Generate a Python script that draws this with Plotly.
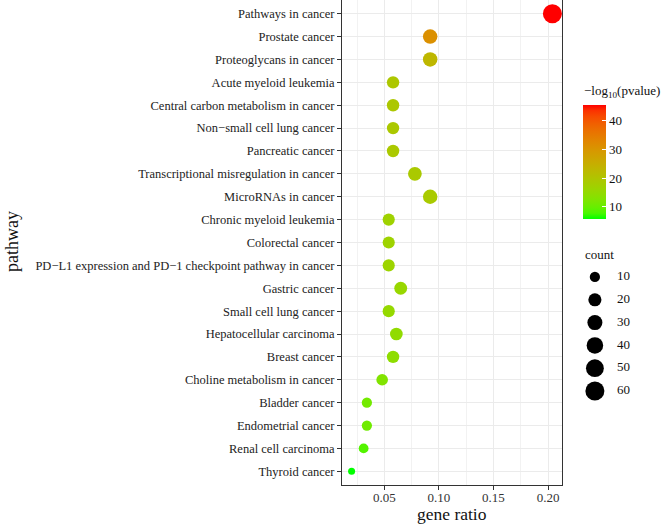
import numpy as np
import plotly.graph_objects as go

pathways = [
    "Pathways in cancer", "Prostate cancer", "Proteoglycans in cancer",
    "Acute myeloid leukemia", "Central carbon metabolism in cancer",
    "Non\u2212small cell lung cancer", "Pancreatic cancer",
    "Transcriptional misregulation in cancer", "MicroRNAs in cancer",
    "Chronic myeloid leukemia", "Colorectal cancer",
    "PD\u2212L1 expression and PD\u22121 checkpoint pathway in cancer",
    "Gastric cancer", "Small cell lung cancer", "Hepatocellular carcinoma",
    "Breast cancer", "Choline metabolism in cancer", "Bladder cancer",
    "Endometrial cancer", "Renal cell carcinoma", "Thyroid cancer",
]
gene_ratio = [0.204, 0.092, 0.092, 0.058, 0.058, 0.058, 0.058, 0.078, 0.092,
              0.054, 0.054, 0.054, 0.065, 0.054, 0.061, 0.058, 0.048, 0.034,
              0.034, 0.031, 0.020]
counts = [60, 27, 27, 17, 17, 17, 17, 23, 27, 16, 16, 16, 19, 16, 18, 17, 14,
          10, 10, 9, 6]
neglog10p = [45.5, 31.0, 23.0, 19.5, 19.3, 19.1, 19.0, 18.8, 18.6, 16.8, 16.6,
             16.4, 15.6, 15.2, 14.6, 14.2, 12.6, 11.0, 10.6, 8.5, 5.7]
size_breaks = [10, 20, 30, 40, 50, 60]
x_ticks = [0.05, 0.10, 0.15, 0.20]
x_tick_labels = ["0.05", "0.10", "0.15", "0.20"]
cbar_ticks = [10, 20, 30, 40]

# ---- Lab interpolation green -> red (like ggplot scale_colour_gradient) ----
WHITE = np.array([0.95047, 1.0, 1.08883])
M = np.array([[0.4124, 0.3576, 0.1805], [0.2126, 0.7152, 0.0722], [0.0193, 0.1192, 0.9505]])
Minv = np.linalg.inv(M)


def to_lab(rgb):
    c = np.array(rgb) / 255.0
    lin = np.where(c <= 0.04045, c / 12.92, ((c + 0.055) / 1.055) ** 2.4)
    xyz = M @ lin / WHITE
    f = np.where(xyz > 0.008856, np.cbrt(xyz), 7.787 * xyz + 16 / 116)
    return np.array([116 * f[1] - 16, 500 * (f[0] - f[1]), 200 * (f[1] - f[2])])


def from_lab(lab):
    L, a, b = lab
    fy = (L + 16) / 116
    fx = fy + a / 500
    fz = fy - b / 200
    f = np.array([fx, fy, fz])
    xyz = np.where(f ** 3 > 0.008856, f ** 3, (f - 16 / 116) / 7.787) * WHITE
    lin = np.clip(Minv @ xyz, 0, 1)
    c = np.where(lin <= 0.0031308, 12.92 * lin, 1.055 * lin ** (1 / 2.4) - 0.055)
    c = np.clip(np.round(c * 255), 0, 255).astype(int)
    return "rgb(%d,%d,%d)" % tuple(c)


lo, hi = to_lab((0, 255, 0)), to_lab((255, 0, 0))
colorscale = [[t, from_lab(lo + (hi - lo) * t)] for t in np.linspace(0, 1, 21)]

cmin, cmax = min(neglog10p), max(neglog10p)
cnt_min, cnt_max = min(counts), max(counts)


def diam(c):
    return 7 + 12 * np.sqrt((np.array(c, dtype=float) - cnt_min) / (cnt_max - cnt_min))


font_family = "Liberation Serif"
fig = go.Figure()
fig.add_trace(go.Scatter(
    x=gene_ratio, y=pathways, mode="markers",
    marker=dict(size=diam(counts), color=neglog10p, colorscale=colorscale,
                cmin=cmin, cmax=cmax, opacity=1, line=dict(width=0),
                colorbar=dict(
                    x=(583 - 342) / 314, xanchor="left", xpad=0,
                    y=1 - 219 / 485, yanchor="bottom", ypad=0,
                    len=114, lenmode="pixels", thickness=23,
                    outlinewidth=0, tickvals=cbar_ticks, ticks="inside",
                    tickcolor="white", ticklen=4,
                    tickfont=dict(size=13, family=font_family, color="#111"))),
    showlegend=False, hoverinfo="x+y",
))

# size legend drawn on a secondary axis pair
fig.add_trace(go.Scatter(
    x=[0.18] * len(size_breaks), y=size_breaks, mode="markers",
    marker=dict(size=diam(size_breaks), color="#000000", opacity=1,
                line=dict(width=0)),
    xaxis="x2", yaxis="y2", showlegend=False, hoverinfo="skip"))
fig.add_trace(go.Scatter(
    x=[0.58] * len(size_breaks), y=size_breaks, mode="text",
    text=[str(s) for s in size_breaks], textposition="middle right",
    textfont=dict(size=13, family=font_family, color="#111"),
    xaxis="x2", yaxis="y2", showlegend=False, hoverinfo="skip"))

fig.update_layout(
    width=661, height=525,
    margin=dict(l=342, r=5, t=0, b=40),
    paper_bgcolor="white", plot_bgcolor="white",
    font=dict(family=font_family, color="#111"),
    xaxis=dict(domain=[0, 220 / 314], range=[0.0112, 0.2128],
               tickvals=x_ticks, ticktext=x_tick_labels,
               ticks="outside", ticklen=4, tickcolor="#333",
               ticklabelstandoff=-4,
               tickfont=dict(size=13, family=font_family, color="#333"),
               showgrid=True, gridcolor="#EBEBEB", gridwidth=1.2,
               minor=dict(dtick=0.025, tick0=0, showgrid=True, gridcolor="#F2F2F2",
                          gridwidth=0.6, ticks=""),
               showline=True, linecolor="#333", linewidth=1, mirror=True,
               zeroline=False),
    yaxis=dict(type="category", categoryorder="array", categoryarray=pathways,
               range=[len(pathways) - 0.4, -0.6],
               ticks="outside", ticklen=4, tickcolor="#333",
               tickfont=dict(size=12.5, family=font_family, color="#222"),
               showgrid=True, gridcolor="#EBEBEB", gridwidth=1.2,
               showline=True, linecolor="#333", linewidth=1, mirror=True,
               zeroline=False),
    xaxis2=dict(domain=[(585 - 342) / 314, (640 - 342) / 314], range=[0, 1],
                visible=False, anchor="y2", fixedrange=True),
    yaxis2=dict(domain=[1 - 403 / 485, 1 - 265 / 485], range=[65.26, 4.74],
                visible=False, anchor="x2", fixedrange=True),
    annotations=[
        dict(text="gene ratio", xref="paper", yref="paper",
             x=110 / 314, y=-(514 - 485) / 485, xanchor="center", yanchor="middle",
             showarrow=False, font=dict(size=17.5, family=font_family, color="#111")),
        dict(text="pathway", xref="paper", yref="paper",
             x=(12 - 342) / 314, y=1 - 242 / 485, xanchor="center", yanchor="middle",
             textangle=-90, showarrow=False,
             font=dict(size=18, family=font_family, color="#111")),
        dict(text="\u2212log<sub>10</sub>(pvalue)", xref="paper", yref="paper",
             x=(582 - 342) / 314, y=1 - 91 / 485, xanchor="left", yanchor="middle",
             showarrow=False, font=dict(size=13, family=font_family, color="#111")),
        dict(text="count", xref="paper", yref="paper",
             x=(583 - 342) / 314, y=1 - 254 / 485, xanchor="left", yanchor="middle",
             showarrow=False, font=dict(size=13, family=font_family, color="#111")),
    ],
)

fig.write_html("out.html", config={"displayModeBar": False},
               post_script="document.body.style.margin='0';document.body.style.padding='0';")
